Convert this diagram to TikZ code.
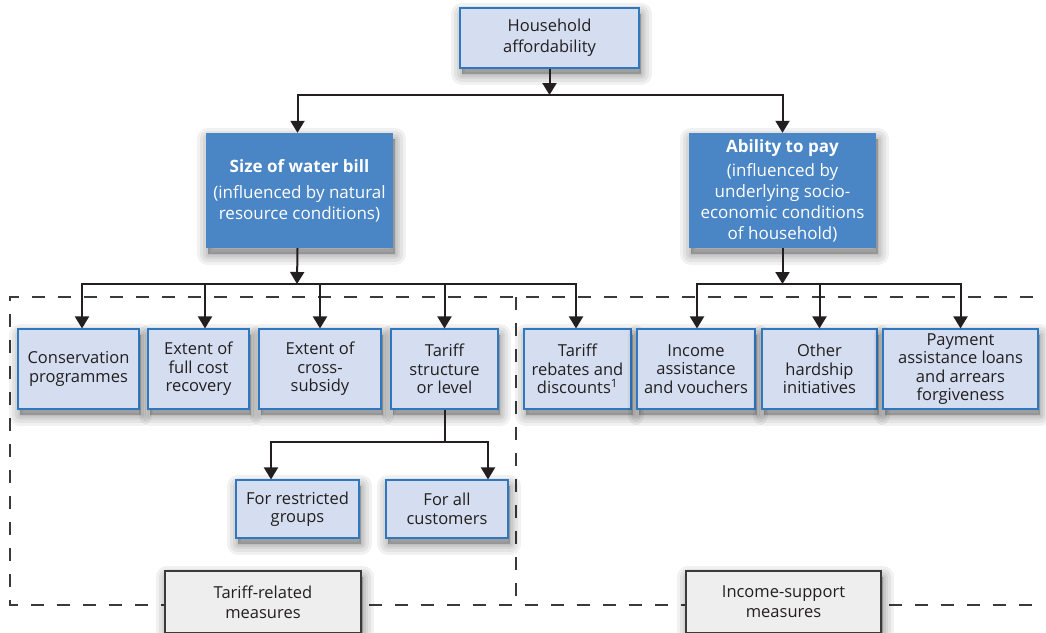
\documentclass[tikz,border=0pt]{standalone}
\usepackage{fontspec}
\setmainfont{Open Sans}
\usetikzlibrary{arrows.meta,calc}
\definecolor{ink}{HTML}{231F20}
\definecolor{paleblue}{HTML}{D4DEF0}
\definecolor{edgeblue}{HTML}{2F78BE}
\definecolor{midblue}{HTML}{4A85C5}
\definecolor{labelgray}{HTML}{EEEEEE}
\definecolor{dashgray}{HTML}{3A3A3A}
\tikzset{
  % soft drop shadow built from stacked translucent strokes
  shadowlayer/.style={preaction={fill=black, draw=black, opacity=0.055, line width=#1,
    line join=round, transform canvas={shift={(2pt,-6pt)}}}},
  boxshadow/.style={shadowlayer=22pt, shadowlayer=16pt, shadowlayer=10pt, shadowlayer=5pt, shadowlayer=1pt},
  item/.style={draw=edgeblue, line width=1.1pt, fill=paleblue, boxshadow, align=center,
    text=ink, inner sep=2pt, font=\fontsize{16.5}{18.5}\selectfont},
  driver/.style={fill=midblue, boxshadow, align=center, text=white, inner sep=2pt,
    font=\fontsize{17}{21}\selectfont},
  groupbox/.style={draw=dashgray, line width=1.1pt, fill=labelgray, boxshadow, align=center,
    text=ink, inner sep=2pt, font=\fontsize{16.5}{20}\selectfont},
  arr/.style={draw=ink, line width=2pt, -{Triangle[width=14pt,length=12pt]}},
  link/.style={draw=ink, line width=2pt},
  region/.style={draw=dashgray, line width=1.1pt, dash pattern=on 13pt off 13pt}
}
\begin{document}
\begin{tikzpicture}[x=1pt,y=-1pt]
\useasboundingbox (0,0) rectangle (1046,632);
\fill[white] (0,0) rectangle (1046,632);

% dashed regions for the two kinds of measures
\draw[region] (1033,297) -- (10,297) -- (10,605) -- (1033,605);
\draw[region] (516,297) -- (516,605);

% top of the tree
\node[item, minimum width=179pt, minimum height=60pt, font=\fontsize{16.5}{21}\selectfont]
  (top) at (549.5,38) {Household\\affordability};

\node[driver, minimum width=187pt, minimum height=115pt] (size) at (299.5,190.5)
  {\textbf{Size of water bill}\\[5pt](influenced by natural\\resource conditions)};
\node[driver, minimum width=187pt, minimum height=115pt] (pay) at (782.5,190.5)
  {\textbf{Ability to pay}\\[3pt](influenced by\\underlying socio-\\economic conditions\\of household)};

% measures
\node[item, minimum width=121pt, minimum height=80pt] (cons) at (78.5,369) {Conservation\\programmes};
\node[item, minimum width=101pt, minimum height=80pt] (full) at (198.5,369) {Extent of\\full cost\\recovery};
\node[item, minimum width=122pt, minimum height=80pt] (cross) at (320,369) {Extent of\\cross-\\subsidy};
\node[item, minimum width=107pt, minimum height=80pt] (struct) at (444.5,369) {Tariff\\structure\\or level};
\node[item, minimum width=107pt, minimum height=80pt] (rebate) at (577.5,369) {Tariff\\rebates and\\discounts\textsuperscript{1}};
\node[item, minimum width=118pt, minimum height=80pt] (income) at (696,369) {Income\\assistance\\and vouchers};
\node[item, minimum width=115pt, minimum height=80pt] (hard) at (819.5,369) {Other\\hardship\\initiatives};
\node[item, minimum width=155pt, minimum height=80pt] (loans) at (960.5,369) {Payment\\assistance loans\\and arrears\\forgiveness};

\node[item, minimum width=123pt, minimum height=58pt] (restr) at (297.5,509) {For restricted\\groups};
\node[item, minimum width=122pt, minimum height=58pt] (allc) at (447,509) {For all\\customers};

% group labels
\node[groupbox, minimum width=196pt, minimum height=62pt] (tarlab) at (263,602) {Tariff-related\\measures};
\node[groupbox, minimum width=195pt, minimum height=62pt] (inclab) at (783.5,602) {Income-support\\measures};

% connectors
\coordinate (busA) at (549.5,95);
\draw[arr] (top.south) -- (top.south |- busA);
\draw[arr] (busA) -| ([xshift=-2pt]size.north);
\draw[arr] (busA) -| (pay.north);

\coordinate (busB) at (297,284);
\draw[arr] ([xshift=-2pt]size.south) -- (busB);
\draw[arr] (busB) -| ([xshift=3.5pt]cons.north);
\draw[arr] (busB) -| ([xshift=6.5pt]full.north);
\draw[arr] (busB) -| (cross.north);
\draw[arr] (busB) -| (struct.north);
\draw[arr] (busB) -| ([xshift=-1.5pt]rebate.north);

\coordinate (busC) at (782.5,284);
\draw[arr] (pay.south) -- (busC);
\draw[arr] (busC) -| ([xshift=1pt]income.north);
\draw[arr] (busC) -| (hard.north);
\draw[arr] (busC) -| (loans.north);

\coordinate (busD) at (444.5,442);
\draw[link] (struct.south) -- (busD);
\draw[arr] (busD) -| ([xshift=-26.5pt]restr.north);
\draw[arr] (busD) -| ([xshift=41pt]allc.north);
\end{tikzpicture}
\end{document}
